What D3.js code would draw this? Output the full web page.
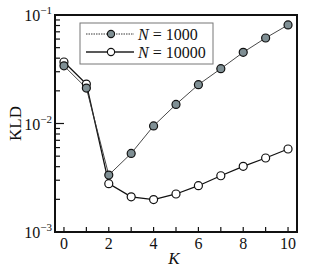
<!DOCTYPE html>
<html><head><meta charset="utf-8">
<script src="https://cdn.jsdelivr.net/npm/d3@7"></script>
<style>body{margin:0;background:#fff}svg{display:block}</style>
</head><body>
<svg id="c" width="320" height="273" font-family="'Liberation Serif', 'Times New Roman', Times, 'DejaVu Serif', serif"></svg>
<script>
const K = [0,1,2,3,4,5,6,7,8,9,10];
const kld1000 = [0.034,0.0212,0.00335,0.0053,0.0095,0.015,0.0228,0.032,0.0453,0.0614,0.081];
const kld10000 = [0.0369,0.0231,0.00279,0.00211,0.00199,0.00224,0.00267,0.0033,0.00403,0.00481,0.00582];
const xTicks = [0,2,4,6,8,10];
const yExps = [-1,-2,-3];
const seriesNames = ["1000","10000"];

const svg = d3.select("#c");
const L=55,R=297,T=15,B=232;
const x = d3.scaleLinear().domain([-0.4,10.4]).range([L,R]);
const y = d3.scaleLog().domain([1e-3,1e-1]).range([B,T]);

const minor=[];
for(let e=-3;e<-1;e++) for(let m=2;m<=9;m++) minor.push(m*Math.pow(10,e));
svg.selectAll(".ym").data(minor).enter().append("line")
  .attr("x1",L).attr("x2",L+5).attr("y1",d=>y(d)).attr("y2",d=>y(d))
  .attr("stroke","#111").attr("stroke-width",1.2);
svg.selectAll(".yM").data(yExps).enter().append("line")
  .attr("x1",L).attr("x2",L+9).attr("y1",d=>y(Math.pow(10,d))).attr("y2",d=>y(Math.pow(10,d)))
  .attr("stroke","#111").attr("stroke-width",1.2);
svg.selectAll(".xt").data(K).enter().append("line")
  .attr("x1",d=>x(d)).attr("x2",d=>x(d)).attr("y1",B).attr("y2",B-5)
  .attr("stroke","#111").attr("stroke-width",1.2);

svg.append("rect").attr("x",L).attr("y",T).attr("width",R-L).attr("height",B-T)
  .attr("fill","none").attr("stroke","#111").attr("stroke-width",2);

svg.selectAll(".xl").data(xTicks).enter().append("text")
  .attr("x",d=>x(d)).attr("y",B+17).attr("text-anchor","middle").attr("font-size",16).attr("fill","#111").text(d=>d);
yExps.forEach(e=>{
  const t=svg.append("text").attr("x",L-3).attr("y",y(Math.pow(10,e))+6).attr("text-anchor","end").attr("font-size",16).attr("fill","#111");
  t.append("tspan").text("10");
  t.append("tspan").attr("dy",-7).attr("font-size",11).text("\u2212"+Math.abs(e));
});
svg.append("text").attr("transform","translate(21,"+((T+B)/2)+") rotate(-90)")
  .attr("text-anchor","middle").attr("font-size",17).attr("fill","#111").text("KLD");
svg.append("text").attr("x",(L+R)/2-2).attr("y",264).attr("text-anchor","middle")
  .attr("font-size",17).attr("font-style","italic").attr("fill","#111").text("K");

const line = d3.line().x((d,i)=>x(K[i])).y(d=>y(d));
svg.append("path").datum(kld10000).attr("d",line).attr("fill","none").attr("stroke","#111").attr("stroke-width",1.3);
svg.append("path").datum(kld1000).attr("d",line).attr("fill","none").attr("stroke","#333").attr("stroke-width",0.9);
svg.selectAll(".p2").data(kld10000).enter().append("circle")
  .attr("cx",(d,i)=>x(K[i])).attr("cy",d=>y(d)).attr("r",4).attr("fill","#fff").attr("stroke","#111").attr("stroke-width",1.2);
svg.selectAll(".p1").data(kld1000).enter().append("circle")
  .attr("cx",(d,i)=>x(K[i])).attr("cy",d=>y(d)).attr("r",4).attr("fill","#7f8f94").attr("stroke","#111").attr("stroke-width",1.2);

const lg = svg.append("g");
lg.append("rect").attr("x",80).attr("y",23).attr("width",133).attr("height",41)
  .attr("fill","#fff").attr("stroke","#777").attr("stroke-width",1);
const rows=[{n:seriesNames[0],fill:"#7f8f94",dash:"1.5,1",sw:0.9,yy:34},{n:seriesNames[1],fill:"#fff",dash:null,sw:1.3,yy:52}];
rows.forEach(r=>{
  lg.append("line").attr("x1",86).attr("x2",134).attr("y1",r.yy).attr("y2",r.yy)
    .attr("stroke","#222").attr("stroke-width",r.sw).attr("stroke-dasharray",r.dash);
  lg.append("circle").attr("cx",111).attr("cy",r.yy).attr("r",3.6).attr("fill",r.fill).attr("stroke","#111").attr("stroke-width",1.1);
  const t=lg.append("text").attr("x",138).attr("y",r.yy+5.5).attr("font-size",16).attr("fill","#111");
  t.append("tspan").attr("font-style","italic").text("N");
  t.append("tspan").text(" = "+r.n);
});
</script>
</body></html>
